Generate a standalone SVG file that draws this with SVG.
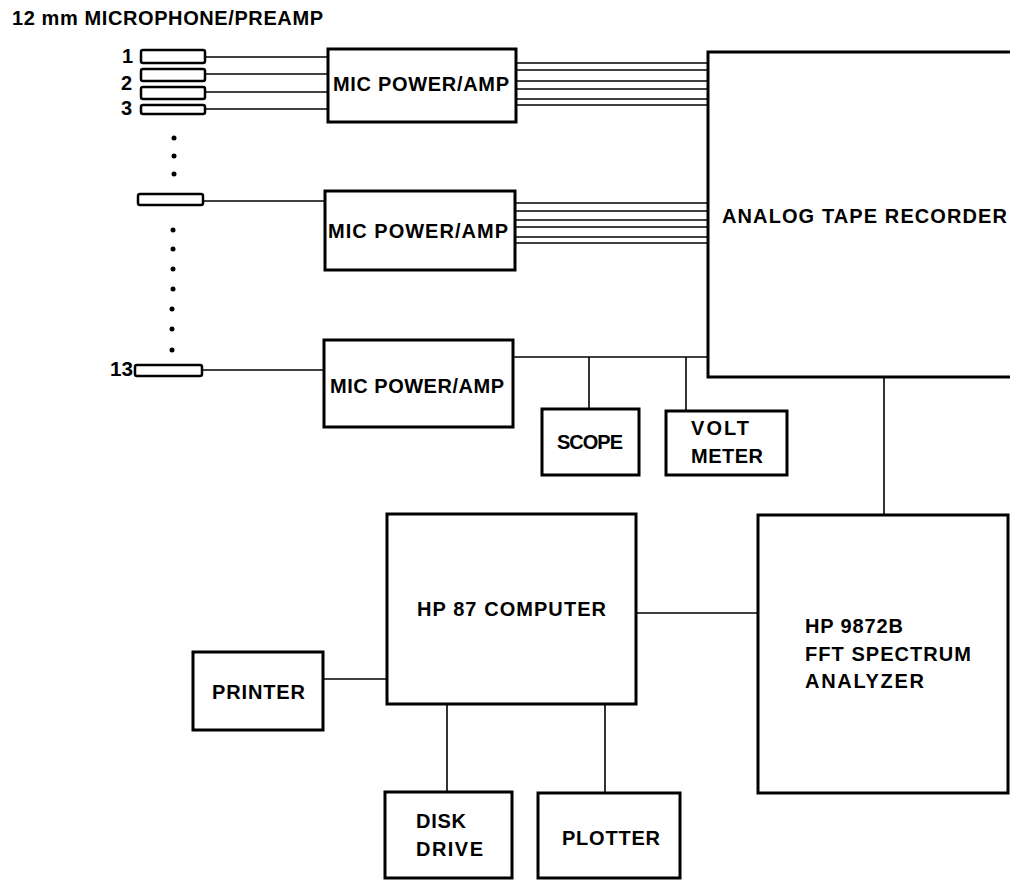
<svg xmlns="http://www.w3.org/2000/svg" width="1010" height="888" viewBox="0 0 1010 888">
<style>
.box{fill:#fff;stroke:#000;stroke-width:3}
.mic{fill:#fff;stroke:#000;stroke-width:2.5}
.ln{stroke:#000;stroke-width:1.6;fill:none}
.t{font-family:"Liberation Sans",Arial,sans-serif;font-weight:bold;font-size:20px;fill:#000}
.dot{fill:#000}
</style>
<rect width="1010" height="888" fill="#fff"/>
<text class="t" x="12" y="25" font-size="18" textLength="311" lengthAdjust="spacing">12 mm MICROPHONE/PREAMP</text>

<g id="connectors">
  <line class="ln" x1="205" y1="57" x2="328" y2="57"/>
  <line class="ln" x1="205" y1="74" x2="328" y2="74"/>
  <line class="ln" x1="205" y1="92" x2="328" y2="92"/>
  <line class="ln" x1="205" y1="109" x2="328" y2="109"/>
  <line class="ln" x1="516" y1="63" x2="708" y2="63"/>
  <line class="ln" x1="516" y1="70" x2="708" y2="70"/>
  <line class="ln" x1="516" y1="81" x2="708" y2="81"/>
  <line class="ln" x1="516" y1="89" x2="708" y2="89"/>
  <line class="ln" x1="516" y1="99" x2="708" y2="99"/>
  <line class="ln" x1="516" y1="105" x2="708" y2="105"/>
  <line class="ln" x1="203" y1="201" x2="325" y2="201"/>
  <line class="ln" x1="515" y1="203" x2="708" y2="203"/>
  <line class="ln" x1="515" y1="211" x2="708" y2="211"/>
  <line class="ln" x1="515" y1="220" x2="708" y2="220"/>
  <line class="ln" x1="515" y1="227" x2="708" y2="227"/>
  <line class="ln" x1="515" y1="237" x2="708" y2="237"/>
  <line class="ln" x1="515" y1="243" x2="708" y2="243"/>
  <line class="ln" x1="202" y1="370" x2="324" y2="370"/>
  <line class="ln" x1="513" y1="357" x2="708" y2="357"/>
  <line class="ln" x1="589" y1="357" x2="589" y2="409"/>
  <line class="ln" x1="686" y1="357" x2="686" y2="411"/>
  <line class="ln" x1="884" y1="377" x2="884" y2="515"/>
  <line class="ln" x1="636" y1="613" x2="758" y2="613"/>
  <line class="ln" x1="323" y1="679" x2="387" y2="679"/>
  <line class="ln" x1="447" y1="704" x2="447" y2="792"/>
  <line class="ln" x1="605" y1="704" x2="605" y2="793"/>
</g>

<g id="mics">
  <rect class="mic" x="141" y="50" width="64" height="13" rx="2"/>
  <rect class="mic" x="141" y="69" width="64" height="12" rx="2"/>
  <rect class="mic" x="141" y="87" width="64" height="12" rx="2"/>
  <rect class="mic" x="141" y="105" width="64" height="9" rx="2"/>
  <rect class="mic" x="138" y="194" width="65" height="11" rx="2"/>
  <rect class="mic" x="135" y="365" width="67" height="11" rx="2"/>
  <text class="t" x="122" y="63">1</text>
  <text class="t" x="121" y="90">2</text>
  <text class="t" x="121" y="115">3</text>
  <text class="t" x="110" y="376" textLength="23" lengthAdjust="spacingAndGlyphs">13</text>
  <circle class="dot" cx="174" cy="138" r="2.5"/>
  <circle class="dot" cx="174" cy="156" r="2.5"/>
  <circle class="dot" cx="174" cy="174" r="2.5"/>
  <circle class="dot" cx="173" cy="230" r="2.5"/>
  <circle class="dot" cx="173" cy="249" r="2.5"/>
  <circle class="dot" cx="173" cy="269" r="2.5"/>
  <circle class="dot" cx="173" cy="289" r="2.5"/>
  <circle class="dot" cx="172" cy="309" r="2.5"/>
  <circle class="dot" cx="172" cy="329" r="2.5"/>
  <circle class="dot" cx="172" cy="350" r="2.5"/>
</g>

<g id="amp1">
  <rect class="box" x="328" y="49" width="188" height="73"/>
  <text class="t" x="333" y="91" textLength="176" lengthAdjust="spacing">MIC POWER/AMP</text>
</g>
<g id="amp2">
  <rect class="box" x="325" y="191" width="190" height="79"/>
  <text class="t" x="328" y="238" textLength="180" lengthAdjust="spacing">MIC POWER/AMP</text>
</g>
<g id="amp3">
  <rect class="box" x="324" y="340" width="189" height="87"/>
  <text class="t" x="330" y="393" textLength="174" lengthAdjust="spacing">MIC POWER/AMP</text>
</g>
<g id="recorder">
  <rect class="box" x="708" y="52" width="340" height="325"/>
  <text class="t" x="722" y="223" textLength="285" lengthAdjust="spacing">ANALOG TAPE RECORDER</text>
</g>
<g id="scope">
  <rect class="box" x="542" y="409" width="97" height="66"/>
  <text class="t" x="557" y="449" textLength="66" lengthAdjust="spacing">SCOPE</text>
</g>
<g id="voltmeter">
  <rect class="box" x="666" y="411" width="121" height="64"/>
  <text class="t" x="691" y="435" textLength="58" lengthAdjust="spacing">VOLT</text>
  <text class="t" x="691" y="463" textLength="72" lengthAdjust="spacing">METER</text>
</g>
<g id="computer">
  <rect class="box" x="387" y="514" width="249" height="190"/>
  <text class="t" x="417" y="616" textLength="189" lengthAdjust="spacing">HP 87 COMPUTER</text>
</g>
<g id="analyzer">
  <rect class="box" x="758" y="515" width="250" height="278"/>
  <text class="t" x="805" y="633" textLength="98" lengthAdjust="spacing">HP 9872B</text>
  <text class="t" x="805" y="661" textLength="166" lengthAdjust="spacing">FFT SPECTRUM</text>
  <text class="t" x="805" y="688" textLength="119" lengthAdjust="spacing">ANALYZER</text>
</g>
<g id="printer">
  <rect class="box" x="193" y="652" width="130" height="78"/>
  <text class="t" x="212" y="699" textLength="93" lengthAdjust="spacing">PRINTER</text>
</g>
<g id="diskdrive">
  <rect class="box" x="385" y="792" width="127" height="86"/>
  <text class="t" x="416" y="828" textLength="50" lengthAdjust="spacing">DISK</text>
  <text class="t" x="416" y="856" textLength="67" lengthAdjust="spacing">DRIVE</text>
</g>
<g id="plotter">
  <rect class="box" x="538" y="793" width="142" height="85"/>
  <text class="t" x="562" y="845" textLength="98" lengthAdjust="spacing">PLOTTER</text>
</g>
</svg>
